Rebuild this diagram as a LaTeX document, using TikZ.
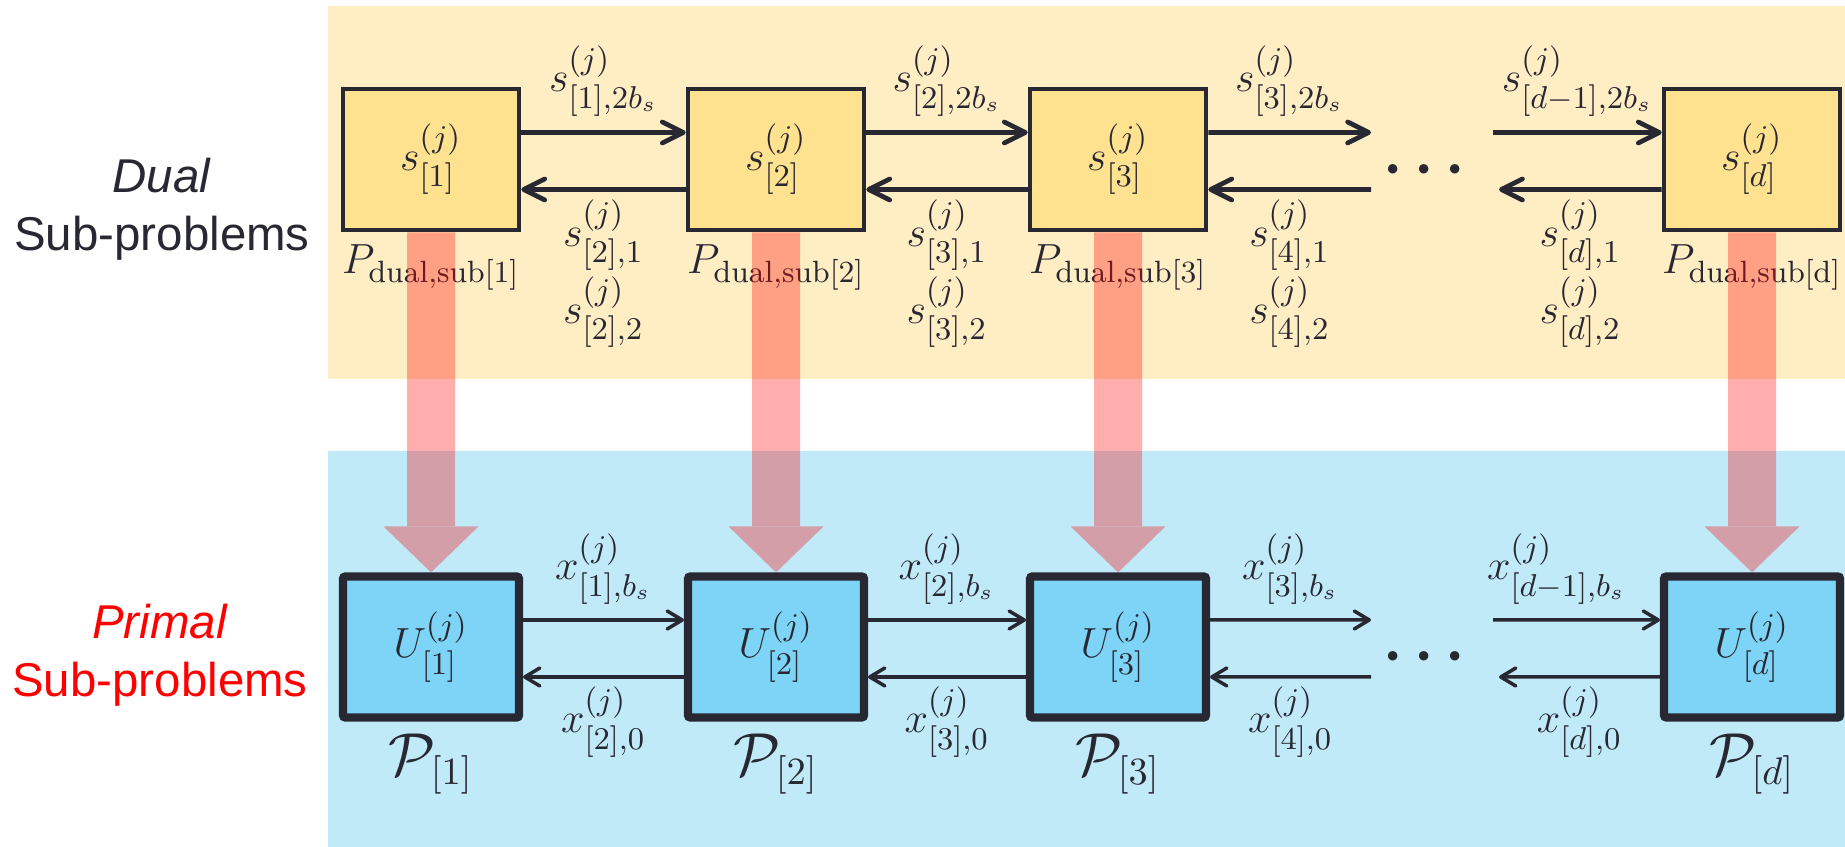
\documentclass[tikz,border=0pt]{standalone}
\usepackage{amsmath,amssymb}
\usepackage{fontspec}
\newfontfamily\sidefont{Liberation Sans}
\usetikzlibrary{arrows.meta,positioning}

\definecolor{dualpanel}{RGB}{255,237,195}
\definecolor{dualfill}{RGB}{255,226,143}
\definecolor{primpanel}{RGB}{193,234,249}
\definecolor{primfill}{RGB}{125,212,246}
\definecolor{ink}{RGB}{40,40,50}

\begin{document}
\begin{tikzpicture}[
    dualbox/.style={draw=ink, line width=1.3pt, fill=dualfill, minimum width=17.6mm, minimum height=14.1mm, inner sep=0pt, text=ink, font=\fontsize{13}{15}\selectfont},
    primbox/.style={dualbox, line width=2.3pt, fill=primfill, rounded corners=0.6pt},
    darr/.style={-{Straight Barb[length=2.1mm,width=2.1mm,round]}, line width=1.35pt, draw=ink},
    parr/.style={-{Straight Barb[length=1.5mm,width=1.8mm,round]}, line width=1pt, draw=ink},
    elbl/.style={inner sep=0.5mm, align=center, text=ink, font=\fontsize{13}{22}\selectfont},
    dlbl/.style={text=ink, font=\fontsize{12.5}{15}\selectfont},
    plbl/.style={text=ink, font=\fontsize{16}{19}\selectfont},
    side/.style={align=center, font=\sidefont\fontsize{13.5}{16.5}\selectfont},
    dotsym/.style={text=ink, font=\fontsize{18}{20}\selectfont},
    flow/.style={line width=4.8mm, draw=red, -{Triangle[length=4.6mm,width=9.5mm,line width=0pt]}}
]
\useasboundingbox (0,0) rectangle (18.45,8.47);

% panels
\fill[dualpanel] (3.28,4.68) rectangle (18.45,8.41);
\fill[primpanel] (3.28,0) rectangle (18.45,3.96);

\node[side, text=ink] (dualtxt) at (1.62,6.38) {\textit{Dual}\\Sub-problems};
\node[side, text=red] (primtxt) at (1.60,1.92) {\textit{Primal}\\Sub-problems};

% dual row
\node[dualbox] (s1) at (4.31,6.875) {$s^{(j)}_{[1]}$};
\node[dualbox] (s2) at (7.76,6.875) {$s^{(j)}_{[2]}$};
\node[dualbox] (s3) at (11.18,6.875) {$s^{(j)}_{[3]}$};
\node[dualbox] (sd) at (17.52,6.875) {$s^{(j)}_{[d]}$};

\node[dlbl, below=0pt of s1] (ps1) {$P_{\text{dual,sub[1]}}$};
\node[dlbl, below=0pt of s2] (ps2) {$P_{\text{dual,sub[2]}}$};
\node[dlbl, below=0pt of s3] (ps3) {$P_{\text{dual,sub[3]}}$};
\node[dlbl, below=0pt of sd] (psd) {$P_{\text{dual,sub[d]}}$};

\coordinate (sgo) at (13.71,7.145);
\coordinate (sback) at (13.71,6.575);
\coordinate (sgo2) at (14.93,7.145);
\coordinate (sback2) at (14.99,6.575);
\node[dotsym] (sdots) at (14.30,6.77) {$\boldsymbol{\cdots}$};

\draw[darr] ([yshift=2.7mm]s1.east) -- node[elbl, above=0.9mm] (a12) {$s^{(j)}_{[1],2b_s}$} ([yshift=2.7mm]s2.west);
\draw[darr] ([yshift=-3mm]s2.west) -- node[elbl, below=0.3mm] (b21) {$s^{(j)}_{[2],1}$\\$s^{(j)}_{[2],2}$} ([yshift=-3mm]s1.east);
\draw[darr] ([yshift=2.7mm]s2.east) -- node[elbl, above=0.9mm] (a23) {$s^{(j)}_{[2],2b_s}$} ([yshift=2.7mm]s3.west);
\draw[darr] ([yshift=-3mm]s3.west) -- node[elbl, below=0.3mm] (b32) {$s^{(j)}_{[3],1}$\\$s^{(j)}_{[3],2}$} ([yshift=-3mm]s2.east);
\draw[darr] ([yshift=2.7mm]s3.east) -- node[elbl, above=0.9mm] (a34) {$s^{(j)}_{[3],2b_s}$} (sgo);
\draw[darr] (sback) -- node[elbl, below=0.3mm] (b43) {$s^{(j)}_{[4],1}$\\$s^{(j)}_{[4],2}$} ([yshift=-3mm]s3.east);
\draw[darr] (sgo2) -- node[elbl, above=0.9mm] (a9d) {$s^{(j)}_{[d-1],2b_s}$} ([yshift=2.7mm]sd.west);
\draw[darr] ([yshift=-3mm]sd.west) -- node[elbl, below=0.3mm] (bd9) {$s^{(j)}_{[d],1}$\\$s^{(j)}_{[d],2}$} (sback2);

% primal row
\node[primbox] (u1) at (4.31,2.00) {$U^{(j)}_{[1]}$};
\node[primbox] (u2) at (7.76,2.00) {$U^{(j)}_{[2]}$};
\node[primbox] (u3) at (11.18,2.00) {$U^{(j)}_{[3]}$};
\node[primbox] (ud) at (17.52,2.00) {$U^{(j)}_{[d]}$};

\node[plbl, below=0pt of u1] (cp1) {$\mathcal{P}_{[1]}$};
\node[plbl, below=0pt of u2] (cp2) {$\mathcal{P}_{[2]}$};
\node[plbl, below=0pt of u3] (cp3) {$\mathcal{P}_{[3]}$};
\node[plbl, below=0pt of ud] (cpd) {$\mathcal{P}_{[d]}$};

\coordinate (ugo) at (13.71,2.27);
\coordinate (uback) at (13.71,1.70);
\coordinate (ugo2) at (14.93,2.27);
\coordinate (uback2) at (14.99,1.70);
\node[dotsym] (udots) at (14.30,1.90) {$\boldsymbol{\cdots}$};

\draw[parr] ([yshift=2.7mm]u1.east) -- node[elbl, above=0.9mm] (x12) {$x^{(j)}_{[1],b_s}$} ([yshift=2.7mm]u2.west);
\draw[parr] ([yshift=-3mm]u2.west) -- node[elbl, below=0.3mm] (x21) {$x^{(j)}_{[2],0}$} ([yshift=-3mm]u1.east);
\draw[parr] ([yshift=2.7mm]u2.east) -- node[elbl, above=0.9mm] (x23) {$x^{(j)}_{[2],b_s}$} ([yshift=2.7mm]u3.west);
\draw[parr] ([yshift=-3mm]u3.west) -- node[elbl, below=0.3mm] (x32) {$x^{(j)}_{[3],0}$} ([yshift=-3mm]u2.east);
\draw[parr] ([yshift=2.7mm]u3.east) -- node[elbl, above=0.9mm] (x34) {$x^{(j)}_{[3],b_s}$} (ugo);
\draw[parr] (uback) -- node[elbl, below=0.3mm] (x43) {$x^{(j)}_{[4],0}$} ([yshift=-3mm]u3.east);
\draw[parr] (ugo2) -- node[elbl, above=0.9mm, xshift=-2mm] (x9d) {$x^{(j)}_{[d-1],b_s}$} ([yshift=2.7mm]ud.west);
\draw[parr] ([yshift=-3mm]ud.west) -- node[elbl, below=0.3mm] (xd9) {$x^{(j)}_{[d],0}$} (uback2);

% dual -> primal
\begin{scope}[transparency group, opacity=0.32]
\draw[flow] (s1.south) -- (u1.north);
\draw[flow] (s2.south) -- (u2.north);
\draw[flow] (s3.south) -- (u3.north);
\draw[flow] (sd.south) -- (ud.north);
\end{scope}
\end{tikzpicture}
\end{document}
